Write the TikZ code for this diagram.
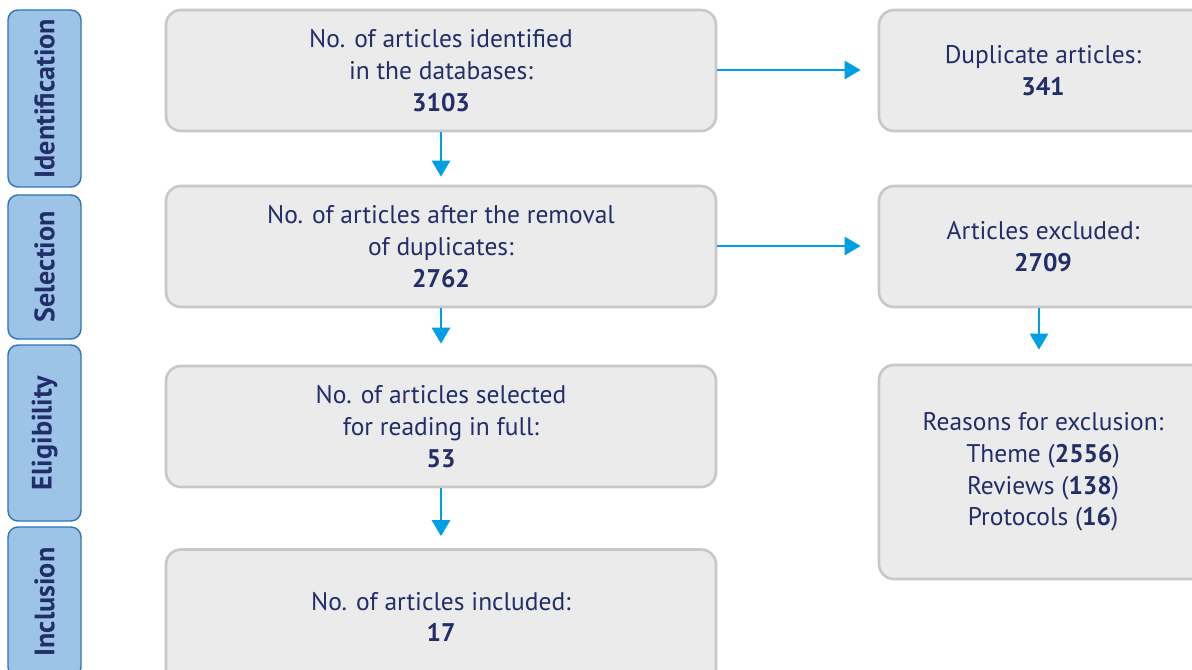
\documentclass[tikz,border=0pt]{standalone}
\usepackage{fontspec}
\setmainfont{PT Sans}
\usetikzlibrary{arrows.meta, positioning}

\definecolor{navy}{HTML}{222E6A}
\definecolor{boxfill}{HTML}{EBEBEB}
\definecolor{boxline}{HTML}{C8C8C8}
\definecolor{stagefill}{HTML}{9DC3E6}
\definecolor{stageline}{HTML}{2E75B6}
\definecolor{flow}{HTML}{009FE3}

\begin{document}
\begin{tikzpicture}[
    mainbox/.style={draw=boxline, fill=boxfill, line width=1.5pt, rounded corners=0.3cm,
      minimum width=11cm, minimum height=2.42cm, align=center, text=navy,
      font=\fontsize{14.5pt}{18pt}\selectfont},
    sidebox/.style={mainbox, minimum width=6.56cm},
    stagebox/.style={draw=stageline, fill=stagefill, line width=0.8pt, rounded corners=0.2cm,
      minimum width=1.46cm, text=navy, font=\fontsize{16pt}{18pt}\selectfont\bfseries},
    flowarrow/.style={draw=flow, line width=1.6pt, -{Triangle[length=0.32cm, width=0.36cm]}}
  ]
  \clip (0,0) rectangle (23.84,-13.4);
  \fill[white] (0,0) rectangle (23.84,-13.4);

  % Stages on the left
  \node[stagebox, minimum height=3.54cm] (ident) at (0.89,-1.97) {\rotatebox{90}{Identification}};
  \node[stagebox, minimum height=2.88cm] (selec) at (0.89,-5.34) {\rotatebox{90}{Selection}};
  \node[stagebox, minimum height=3.52cm] (elig) at (0.89,-8.66) {\rotatebox{90}{Eligibility}};
  \node[stagebox, minimum height=3.0cm] (incl) at (0.89,-12.04) {\rotatebox{90}{Inclusion}};

  % Main column
  \node[mainbox] (found) at (8.82,-1.41) {No. of articles identified\\ in the databases:\\ \textbf{3103}};
  \node[mainbox] (nodupl) at (8.82,-4.93) {No. of articles after the removal\\ of duplicates:\\ \textbf{2762}};
  \node[mainbox] (full) at (8.82,-8.53) {No. of articles selected\\ for reading in full:\\ \textbf{53}};
  \node[mainbox, minimum height=2.7cm] (incd) at (8.82,-12.34) {No. of articles included:\\ \textbf{17}};

  % Right column
  \node[sidebox] (dupl) at (20.86,-1.41) {Duplicate articles:\\ \textbf{341}};
  \node[sidebox] (excl) at (20.86,-4.93) {Articles excluded:\\ \textbf{2709}};
  \node[sidebox, minimum height=4.28cm] (reason) at (20.86,-9.44)
    {Reasons for exclusion:\\ Theme (\textbf{2556})\\ Reviews (\textbf{138})\\ Protocols (\textbf{16})};

  % Arrows
  \draw[flowarrow, shorten >=0.16cm] (found) -- (nodupl);
  \draw[flowarrow, shorten >=0.42cm] (nodupl) -- (full);
  \draw[flowarrow, shorten >=0.24cm] (full) -- (incd);
  \draw[flowarrow, shorten >=0.34cm] (found.east |- 0,-1.4) -- (dupl.west |- 0,-1.4);
  \draw[flowarrow, shorten >=0.34cm] (nodupl.east |- 0,-4.92) -- (excl.west |- 0,-4.92);
  \draw[flowarrow, shorten >=0.28cm] (excl.south -| 20.78,0) -- (reason.north -| 20.78,0);
\end{tikzpicture}
\end{document}
